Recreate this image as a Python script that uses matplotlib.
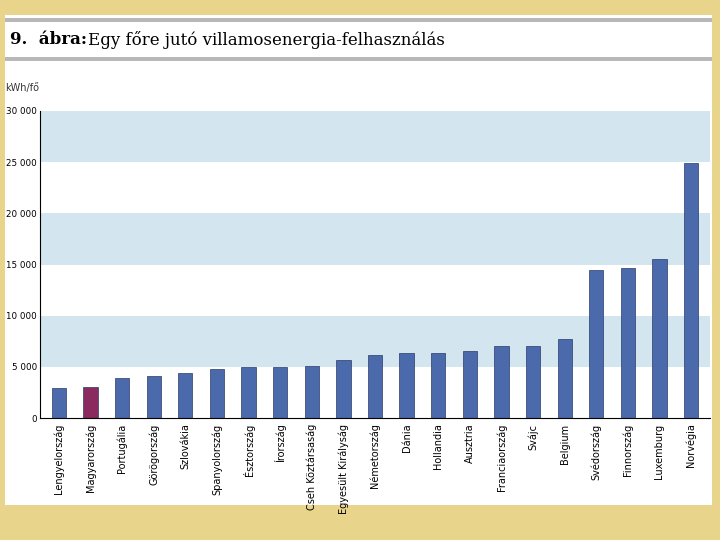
import matplotlib
matplotlib.use("Agg")
import matplotlib.pyplot as plt
from matplotlib.patches import Rectangle

countries = ["Lengyelország", "Magyarország", "Portugália", "Görögország", "Szlovákia",
             "Spanyolország", "Észtország", "Írország", "Cseh Köztársaság", "Egyesült Királyság",
             "Németország", "Dánia", "Hollandia", "Ausztria", "Franciaország", "Svájc",
             "Belgium", "Svédország", "Finnország", "Luxemburg", "Norvégia"]
values = [2930, 3030, 3900, 4100, 4400, 4800, 5000, 5000, 5100, 5700, 6150, 6350, 6350,
          6550, 7050, 7050, 7700, 14460, 14650, 15540, 24900]
yticks = [0, 5000, 10000, 15000, 20000, 25000, 30000]
yticklabels = ["0", "5 000", "10 000", "15 000", "20 000", "25 000", "30 000"]

fig = plt.figure(figsize=(7.2, 5.4), dpi=100)
fig.patch.set_facecolor("#e8d48a")
fig.add_artist(Rectangle((5/720, 1-505/540), 707/720, 490/540, transform=fig.transFigure,
                         facecolor="white", edgecolor="none", zorder=0))
for y in (18, 57):
    fig.add_artist(Rectangle((5/720, 1-(y+4)/540), 707/720, 4/540, transform=fig.transFigure,
                             facecolor="#b8b8b8", edgecolor="none", zorder=1))
fig.text(10/720, 1-40/540, "9.  ábra:", fontsize=12, fontweight="bold", va="center", family="DejaVu Serif")
fig.text(88/720, 1-40/540, "Egy főre jutó villamosenergia-felhasználás", fontsize=12, va="center", family="DejaVu Serif")
fig.text(5/720, 1-88/540, "kWh/fő", fontsize=7, va="center", color="#333")

ax = fig.add_axes([40/720, 1-418/540, 670/720, 307/540])
ax.set_facecolor("white")
for lo in (5000, 15000, 25000):
    ax.axhspan(lo, lo+5000, color="#d3e5ee", zorder=0, lw=0)
colors = ["#4a6aab"] * len(values)
colors[1] = "#8a2a5e"
x = range(len(values))
ax.bar(x, values, width=0.45, color=colors, edgecolor="#2a3a6a", linewidth=0.5, zorder=2)
ax.set_xlim(-0.6, len(values) - 0.4)
ax.set_ylim(0, 30000)
ax.set_yticks(yticks)
ax.set_yticklabels(yticklabels, fontsize=6.3)
ax.set_xticks(list(x))
ax.set_xticklabels(countries, rotation=90, fontsize=7)
for s in ("top", "right"):
    ax.spines[s].set_visible(False)
ax.tick_params(length=0, pad=4)
ax.tick_params(axis="y", pad=2)
fig.savefig("out.png", dpi=100)
